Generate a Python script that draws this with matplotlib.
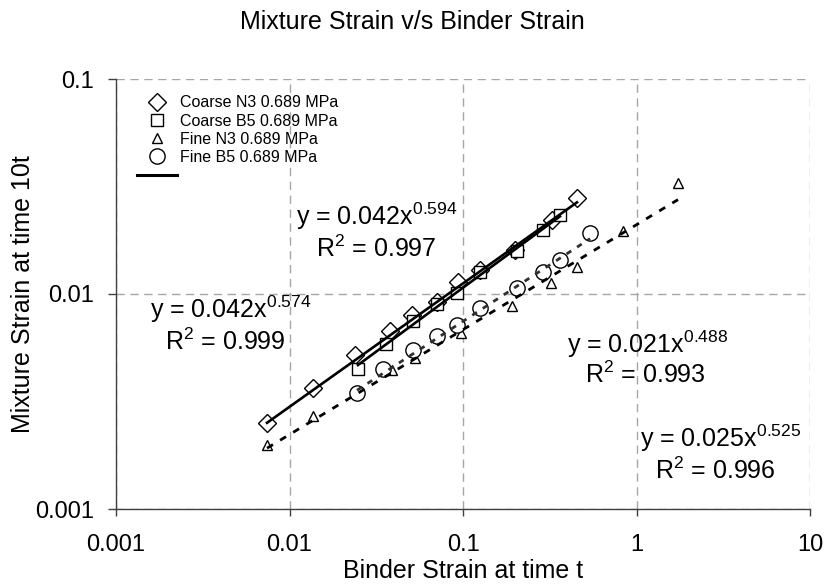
import matplotlib
matplotlib.use("Agg")
import matplotlib.pyplot as plt
from matplotlib.lines import Line2D
import numpy as np

plt.rcParams['font.family'] = ['Liberation Sans', 'DejaVu Sans']
plt.rcParams['mathtext.fontset'] = 'custom'
plt.rcParams['mathtext.rm'] = 'Liberation Sans'

# Binder strain at time t (x) and mixture strain at time 10t (y)
coarse_n3_x = [0.00742, 0.01366, 0.02385, 0.0380, 0.0508, 0.0708, 0.0936, 0.1253, 0.1994, 0.326, 0.454]
coarse_n3_y = [0.00251, 0.00365, 0.00520, 0.00673, 0.00799, 0.00918, 0.01137, 0.01293, 0.01602, 0.02208, 0.0280]

coarse_b5_x = [0.0248, 0.0360, 0.0515, 0.0708, 0.0923, 0.1253, 0.2048, 0.289, 0.362]
coarse_b5_y = [0.00448, 0.00585, 0.00749, 0.00899, 0.0101, 0.01266, 0.01585, 0.01984, 0.0233]

fine_n3_x = [0.00742, 0.01366, 0.0245, 0.0390, 0.0529, 0.0974, 0.1916, 0.3215, 0.454, 0.836, 1.735]
fine_n3_y = [0.00198, 0.00271, 0.00354, 0.00443, 0.00504, 0.00659, 0.00879, 0.01125, 0.01335, 0.01963, 0.0328]

fine_b5_x = [0.0245, 0.0346, 0.0515, 0.0708, 0.0923, 0.1253, 0.2048, 0.289, 0.362, 0.540]
fine_b5_y = [0.00347, 0.00448, 0.00549, 0.00638, 0.00718, 0.00861, 0.01066, 0.01266, 0.01439, 0.0192]

series_labels = ["Coarse N3 0.689 MPa", "Coarse B5 0.689 MPa", "Fine N3 0.689 MPa", "Fine B5 0.689 MPa"]

# Power-law trendlines y = a * x^b with their R^2
fit_a = [0.042, 0.042, 0.021, 0.025]
fit_b = [0.574, 0.594, 0.488, 0.525]
fit_r2 = [0.999, 0.997, 0.993, 0.996]

tick_values = [0.001, 0.01, 0.1, 1, 10]
tick_labels = ["0.001", "0.01", "0.1", "1", "10"]
ytick_values = [0.001, 0.01, 0.1]
ytick_labels = ["0.001", "0.01", "0.1"]

W, H = 825, 585
fig = plt.figure(figsize=(W / 100, H / 100), dpi=100)
ax = fig.add_axes([116 / W, 1 - 509 / H, (810 - 116) / W, (509 - 79) / H])
ax.set_xscale('log')
ax.set_yscale('log')
ax.set_xlim(0.001, 10)
ax.set_ylim(0.001, 0.1)

xs = [coarse_n3_x, coarse_b5_x, fine_n3_x, fine_b5_x]
ys = [coarse_n3_y, coarse_b5_y, fine_n3_y, fine_b5_y]
markers = ['D', 's', '^', 'o']
msizes = [9, 8, 7.5, 11]
line_styles = [
    dict(color='black', lw=1.9, ls='-'),
    dict(color='black', lw=1.9, ls='-'),
    dict(color='black', lw=2.0, ls=(0, (2.5, 3))),
    dict(color='#303030', lw=2.0, ls=(0, (2.0, 2.5))),
]

for x, y, m, s in zip(xs, ys, markers, msizes):
    ax.plot(x, y, ls='none', marker=m, ms=s, mfc='white', mec='black', mew=1.0, zorder=3)

for x, a, b, ls in zip(xs, fit_a, fit_b, line_styles):
    xx = np.logspace(np.log10(min(x)), np.log10(max(x)), 100)
    ax.plot(xx, a * xx ** b, zorder=4, **ls)

# grid and axes styling
ax.grid(True, which='major', color='#a6a6a6', lw=1.0, ls=(0, (6, 4)))
ax.set_axisbelow(True)
for side in ['top', 'right']:
    ax.spines[side].set_visible(False)
for side in ['left', 'bottom']:
    ax.spines[side].set_color('#404040')
    ax.spines[side].set_linewidth(1.0)
ax.minorticks_off()
ax.set_xticks(tick_values)
ax.set_xticklabels(tick_labels)
ax.set_yticks(ytick_values)
ax.set_yticklabels(ytick_labels)
ax.tick_params(axis='x', direction='out', length=5, width=1, color='#404040', labelsize=17, pad=13)
ax.tick_params(axis='y', direction='out', length=6, width=1, color='#404040', labelsize=17, pad=10)

ax.set_xlabel("Binder Strain at time t", fontsize=18, labelpad=2)
ax.set_ylabel("Mixture Strain at time 10t", fontsize=18, labelpad=0)
fig.text(0.5, 1 - 22 / H, "Mixture Strain v/s Binder Strain", ha='center', va='center', fontsize=18)

# legend
handles = [Line2D([], [], ls='none', marker=m, ms=s, mfc='white', mec='black', mew=1.0)
           for m, s in zip(markers, msizes)]
handles.append(Line2D([], [], color='black', lw=2.2))
labels = series_labels + [" "]
ax.legend(handles, labels, loc='upper left', bbox_to_anchor=(0.030, 0.962), frameon=False,
          fontsize=11.5, handlelength=2.5, handletextpad=0.2, labelspacing=0.2,
          borderpad=0, borderaxespad=0)

# trendline equations
eq_pos = [(150, 318, 165, 350), (296, 225, 316, 257), (567, 353, 585, 383), (640, 447, 655, 479)]
for (x1, y1, x2, y2), a, b, r2 in zip(eq_pos, fit_a, fit_b, fit_r2):
    fig.text(x1 / W, 1 - y1 / H, r"y = %.3fx$^{\mathregular{%.3f}}$" % (a, b),
             fontsize=18, ha='left', va='baseline')
    fig.text(x2 / W, 1 - y2 / H, r"R$^{\mathregular{2}}$ = %.3f" % r2,
             fontsize=18, ha='left', va='baseline')

fig.savefig("out.png", dpi=100)
